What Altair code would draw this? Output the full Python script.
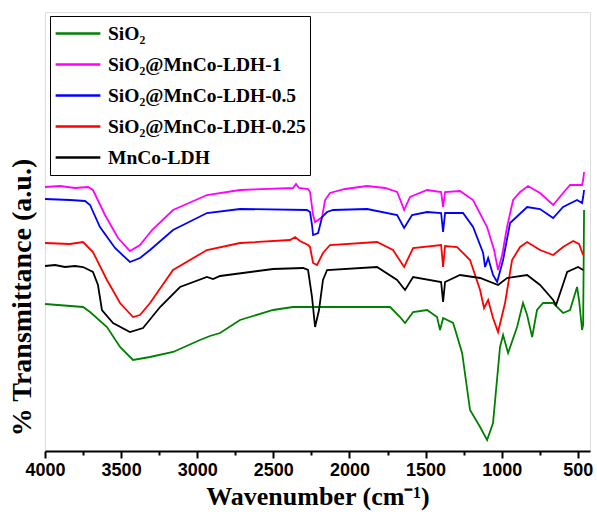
import altair as alt
import pandas as pd

series_names = ["SiO₂", "SiO₂@MnCo-LDH-1", "SiO₂@MnCo-LDH-0.5", "SiO₂@MnCo-LDH-0.25", "MnCo-LDH"]
series_colors = ["#008000", "#ff00ff", "#0000ff", "#ff0000", "#000000"]

# SiO2
wn_sio2 = [4000, 3750, 3704, 3593, 3507, 3422, 3310, 3159, 2982, 2916, 2850, 2719, 2502, 2371, 2193,
           1733, 1668, 1635, 1582, 1490, 1425, 1405, 1385, 1319, 1260, 1208, 1142, 1096, 1057, 1011,
           991, 958, 899, 860, 833, 800, 768, 728, 662, 597, 551, 505, 492, 472, 465, 459]
t_sio2 = [147, 144, 139, 124, 104, 91, 94, 99, 111, 115, 118, 131, 141, 144, 144,
          144, 134, 128, 139, 141, 134, 121, 133, 128, 98, 41, 24, 11, 28, 104,
          116, 98, 124, 148, 136, 114, 141, 148, 148, 138, 141, 164, 151, 121, 126, 241]

# SiO2@MnCo-LDH-1
wn_l1 = [4000, 3901, 3803, 3717, 3685, 3606, 3520, 3442, 3376, 3297, 3159, 2936, 2719, 2371, 2351,
         2331, 2272, 2259, 2239, 2226, 2206, 2180, 2160, 2128, 2029, 1884, 1766, 1687, 1661, 1641,
         1602, 1490, 1398, 1385, 1372, 1274, 1188, 1096, 1050, 1024, 997, 965, 925, 879, 827,
         748, 662, 597, 551, 472, 465, 459]
t_l1 = [264, 265, 263, 264, 261, 236, 213, 200, 206, 221, 241, 256, 261, 263, 267,
        263, 262, 259, 236, 229, 231, 234, 251, 258, 262, 265, 263, 259, 249, 241,
        254, 261, 259, 244, 259, 260, 251, 224, 201, 181, 196, 224, 251, 259, 265,
        258, 246, 258, 266, 266, 271, 279]

# SiO2@MnCo-LDH-0.5
wn_l05 = [4000, 3836, 3737, 3704, 3639, 3540, 3442, 3376, 3310, 3159, 2936, 2719, 2279, 2259, 2246,
          2239, 2206, 2180, 2147, 2108, 1884, 1687, 1641, 1589, 1490, 1398, 1385, 1372, 1254, 1188,
          1122, 1109, 1089, 1057, 1030, 991, 945, 833, 748, 662, 597, 505, 472, 465, 459]
t_l05 = [252, 251, 250, 246, 224, 203, 189, 193, 201, 221, 238, 242, 241, 239, 226,
         216, 218, 234, 239, 241, 242, 236, 223, 236, 239, 238, 219, 238, 238, 224,
         198, 184, 193, 176, 169, 191, 228, 244, 242, 233, 244, 251, 248, 254, 261]

# SiO2@MnCo-LDH-0.25
wn_l025 = [4000, 3836, 3750, 3685, 3593, 3507, 3422, 3376, 3310, 3159, 2936, 2719, 2390, 2357, 2325,
           2272, 2259, 2239, 2213, 2174, 2128, 1819, 1714, 1641, 1582, 1398, 1385, 1372, 1293, 1208,
           1142, 1116, 1089, 1057, 1024, 978, 932, 879, 833, 748, 662, 597, 531, 492, 465]
t_l025 = [208, 207, 209, 199, 171, 148, 134, 136, 148, 181, 201, 208, 211, 214, 210,
          206, 204, 188, 186, 198, 206, 209, 201, 184, 203, 206, 184, 205, 204, 191,
          161, 143, 151, 133, 119, 148, 191, 204, 209, 201, 196, 204, 210, 207, 196]

# MnCo-LDH
wn_ldh = [4000, 3934, 3869, 3803, 3750, 3685, 3652, 3626, 3553, 3442, 3356, 3244, 3113, 2936, 2896,
          2850, 2502, 2305, 2272, 2246, 2226, 2200, 2174, 2147, 1819, 1687, 1635, 1582, 1398, 1385,
          1372, 1274, 1142, 1024, 965, 833, 748, 662, 643, 603, 570, 498, 465]
t_ldh = [185, 186, 184, 185, 184, 179, 166, 141, 128, 119, 123, 144, 164, 174, 172,
         175, 182, 183, 181, 154, 124, 141, 171, 181, 184, 171, 161, 174, 169, 149,
         169, 176, 173, 166, 173, 176, 166, 151, 146, 164, 179, 184, 181]

x_ticks = [4000, 3750, 3500, 3250, 3000, 2750, 2500, 2250, 2000, 1750, 1500, 1250, 1000, 750, 500]

rows = []
for name, wns, ts in [
    (series_names[0], wn_sio2, t_sio2),
    (series_names[1], wn_l1, t_l1),
    (series_names[2], wn_l05, t_l05),
    (series_names[3], wn_l025, t_l025),
    (series_names[4], wn_ldh, t_ldh),
]:
    for i, (w, t) in enumerate(zip(wns, ts)):
        rows.append({"series": name, "wn": w, "T": t, "idx": i})
df = pd.DataFrame(rows)

serif = "Liberation Serif"
sans = "Liberation Sans"

chart = alt.Chart(df).mark_line(strokeWidth=1.8).encode(
    x=alt.X("wn:Q",
            scale=alt.Scale(domain=[420, 4000], reverse=True, nice=False, zero=False),
            axis=alt.Axis(values=x_ticks, format="d",
                          labelExpr="datum.value % 500 === 0 ? datum.label : ''",
                          tickSize={"expr": "datum.value % 500 === 0 ? 7 : 4"},
                          tickWidth=2, tickColor="black", domainWidth=2, domainColor="black",
                          labelFont=sans, labelFontSize=18, labelFontWeight="bold",
                          labelColor="black", labelPadding=3, labelOverlap=False, labelFlush=False,
                          grid=False, title="Wavenumber (cm⁻¹)", titleFont=serif,
                          titleFontSize=26, titleFontWeight="bold", titleColor="black",
                          titlePadding=4)),
    y=alt.Y("T:Q",
            scale=alt.Scale(domain=[0, 439], nice=False, zero=False),
            axis=alt.Axis(labels=False, ticks=False, domain=False, grid=False,
                          title="% Transmittance (a.u.)", titleFont=serif, titleFontSize=28,
                          titleFontWeight="bold", titleColor="black", titleAngle=270,
                          titleX=-23, titleY=285, titleAlign="center", titleBaseline="middle")),
    color=alt.Color("series:N",
                    scale=alt.Scale(domain=series_names, range=series_colors),
                    legend=alt.Legend(orient="none", legendX=5, legendY=4, title=None,
                                      symbolType="stroke", symbolSize=2000, symbolStrokeWidth=2.5,
                                      labelFont=serif, labelFontSize=19.5, labelFontWeight="bold",
                                      labelColor="black", labelLimit=400, labelOffset=6,
                                      strokeColor="black", fillColor="white", padding=4,
                                      rowPadding=4, clipHeight=27)),
    order="idx:Q",
).properties(
    width=545, height=439,
    autosize=alt.AutoSizeParams(type="none"),
    padding={"left": 45, "top": 12, "right": 7, "bottom": 67},
).configure_view(
    stroke="black", strokeWidth=2
).configure(background="white")

chart.save("out.html", embed_options={"renderer": "svg", "actions": False})
